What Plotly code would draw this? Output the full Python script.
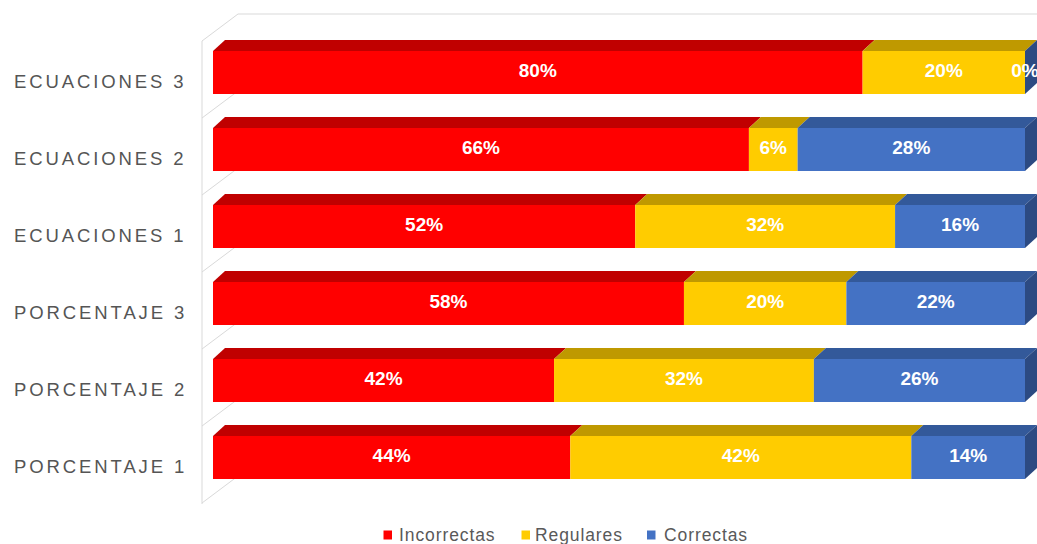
import plotly.graph_objects as go

categories = ["PORCENTAJE 1", "PORCENTAJE 2", "PORCENTAJE 3",
              "ECUACIONES 1", "ECUACIONES 2", "ECUACIONES 3"]
series_names = ["Incorrectas", "Regulares", "Correctas"]
incorrectas = [44, 42, 58, 52, 66, 80]
regulares = [42, 32, 20, 32, 6, 20]
correctas = [14, 26, 22, 16, 28, 0]
series_values = [incorrectas, regulares, correctas]

front_colors = ["#FF0000", "#FFCC00", "#4472C4"]
top_colors = ["#C00000", "#BF9900", "#33599A"]
side_color = "#2C4A82"

W, H = 1037, 544
X0PX, XSCALE = 213.0, 8.12      # px of value 0, px per unit
Y0PX, YSCALE = 457.5, 77.0      # px of category 0 centre, px per category
BAR_W = 43.0 / YSCALE
DX = 12.0 / XSCALE
DY = 11.0 / YSCALE


def xd(px):
    return (px - X0PX) / XSCALE


def yd(py):
    return (Y0PX - py) / YSCALE


ypos = list(range(len(categories)))
fig = go.Figure()

shapes = []
wall = dict(color="#D9D9D9", width=1)
shapes.append(dict(type="line", xref="x", yref="y", x0=xd(202), x1=xd(202),
                   y0=yd(41), y1=yd(504), line=wall, layer="below"))
for k in range(len(categories) + 1):
    b = 41 + 77 * k
    shapes.append(dict(type="line", xref="x", yref="y", x0=xd(202), x1=xd(238),
                       y0=yd(b), y1=yd(b - 27), line=wall, layer="below"))
shapes.append(dict(type="line", xref="x", yref="y", x0=xd(238), x1=xd(1037),
                   y0=yd(14), y1=yd(14), line=wall, layer="below"))

cum = [0.0] * len(categories)
for s, (name, vals) in enumerate(zip(series_names, series_values)):
    fig.add_trace(go.Bar(
        y=ypos, x=vals, base=cum[:], orientation="h", width=BAR_W,
        name=name,
        marker=dict(color=front_colors[s], line=dict(width=0)),
        showlegend=False, hoverinfo="skip"))
    centers = []
    for i, v in enumerate(vals):
        a, b = cum[i], cum[i] + v
        yt = ypos[i] + BAR_W / 2
        path = (f"M {a},{yt} L {b},{yt} L {b + DX},{yt + DY} "
                f"L {a + DX},{yt + DY} Z")
        shapes.append(dict(type="path", xref="x", yref="y", path=path,
                           fillcolor=top_colors[s], line=dict(width=0),
                           layer="below"))
        centers.append((a + b) / 2)
    fig.add_trace(go.Scatter(
        x=centers, y=ypos, mode="text",
        text=[f"{v}%" for v in vals],
        textfont=dict(family="Liberation Sans, Arial", size=19, color="white",
                      weight="bold"),
        showlegend=False, hoverinfo="skip", cliponaxis=False))
    cum = [c + v for c, v in zip(cum, vals)]

for i in range(len(categories)):
    e = cum[i]
    yt = ypos[i] + BAR_W / 2
    yb = ypos[i] - BAR_W / 2
    path = (f"M {e},{yb} L {e},{yt} L {e + DX},{yt + DY} "
            f"L {e + DX},{yb + DY} Z")
    shapes.append(dict(type="path", xref="x", yref="y", path=path,
                       fillcolor=side_color, line=dict(width=0),
                       layer="below"))

annotations = []
for i, cat in enumerate(categories):
    annotations.append(dict(
        x=12 / W, xref="paper", xanchor="left", y=ypos[i], yref="y",
        yanchor="middle", yshift=-8.5, showarrow=False,
        text=f'<span style="letter-spacing:2.9px">{cat}</span>',
        font=dict(family="Liberation Sans, Arial", size=18.5, color="#555555")))

# legend (swatch + label), laid out as in the reference
legend_sq_x = [383.5, 521.5, 647.0]
legend_txt_x = [397.5, 534.0, 662.5]
legend_y = 534.5
for s, name in enumerate(series_names):
    shapes.append(dict(type="rect", xref="paper", yref="paper",
                       x0=legend_sq_x[s] / W, x1=(legend_sq_x[s] + 8.5) / W,
                       y0=1 - (legend_y + 5.0) / H, y1=1 - (legend_y - 4.0) / H,
                       fillcolor=front_colors[s], line=dict(width=0)))
    annotations.append(dict(
        x=legend_txt_x[s] / W, xref="paper", xanchor="left",
        y=1 - legend_y / H, yref="paper", yanchor="middle", showarrow=False,
        borderpad=0,
        text=f'<span style="letter-spacing:0.9px">{name}</span>',
        font=dict(family="Liberation Sans, Arial", size=17.5, color="#595959")))

fig.update_layout(
    width=W, height=H,
    margin=dict(l=0, r=0, t=0, b=0, autoexpand=False),
    paper_bgcolor="white", plot_bgcolor="white",
    barmode="overlay",
    xaxis=dict(range=[xd(0), xd(W)], visible=False, fixedrange=True),
    yaxis=dict(range=[yd(H), yd(0)], visible=False, fixedrange=True),
    shapes=shapes,
    annotations=annotations,
    showlegend=False,
)

fig.write_html("out.html")
